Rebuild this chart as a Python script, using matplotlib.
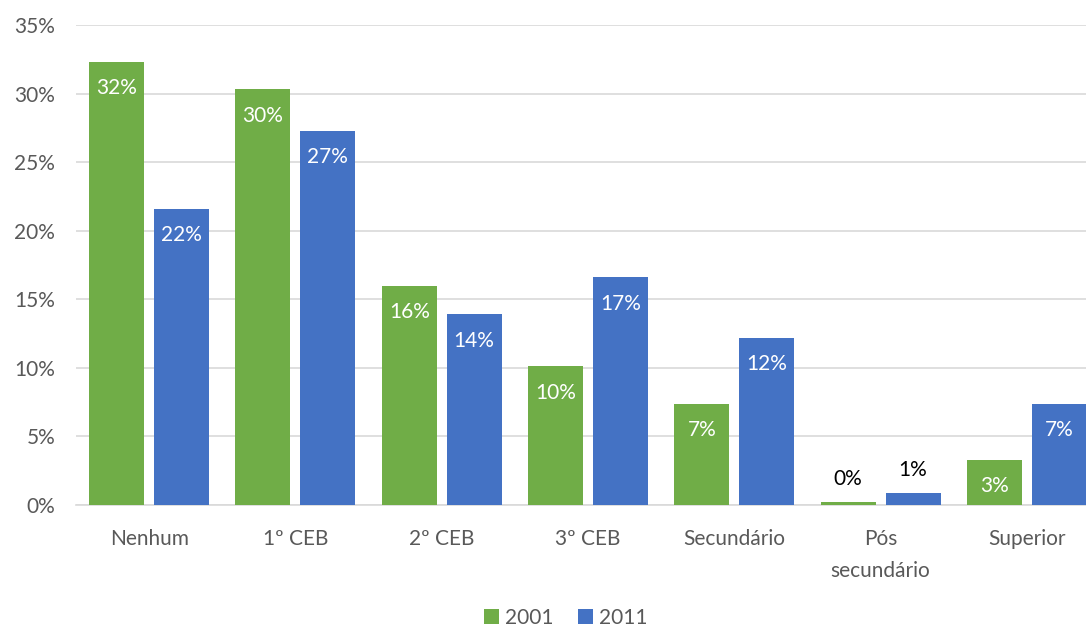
import matplotlib.pyplot as plt
import numpy as np

plt.rcParams['font.family'] = ['Lato', 'DejaVu Sans']

# Data (share of population by education level)
categories = ["Nenhum", "1º CEB", "2º CEB", "3º CEB", "Secundário", "Pós\nsecundário", "Superior"]
values_2001 = [32.3, 30.3, 16.0, 10.1, 7.4, 0.2, 3.3]
values_2011 = [21.6, 27.3, 13.9, 16.6, 12.2, 0.9, 7.4]
series_names = ["2001", "2011"]
colors = ["#70AD47", "#4472C4"]

fig = plt.figure(figsize=(10.86, 6.26), dpi=100)
ax = fig.add_axes([76 / 1086, 1 - 505 / 626, 1024 / 1086, 480 / 626])

x = np.arange(len(categories))
w = 0.376
off = 0.222
fs = 15
for vals, name, c, d in zip([values_2001, values_2011], series_names, colors, [-off, off]):
    bars = ax.bar(x + d, vals, width=w, color=c, label=name, zorder=3)
    for b, v in zip(bars, vals):
        cx = b.get_x() + b.get_width() / 2
        if v < 2:
            ax.annotate("{:.0f}%".format(v), (cx, v), xytext=(0, 16.5), textcoords="offset points",
                        ha="center", va="center", fontsize=fs, color="black")
        else:
            ax.annotate("{:.0f}%".format(v), (cx, v), xytext=(0, -19), textcoords="offset points",
                        ha="center", va="center", fontsize=fs, color="white")

ax.set_xlim(-0.5, len(categories) - 0.5)
ax.set_ylim(0, 35)
ax.set_yticks(np.arange(0, 36, 5))
ax.set_yticklabels(["{}%".format(t) for t in range(0, 36, 5)])
ax.set_xticks(x)
ax.set_xticklabels(categories, linespacing=1.75)
ax.tick_params(axis="both", length=0, labelsize=fs, colors="#595959")
ax.tick_params(axis="x", pad=17)
ax.tick_params(axis="y", pad=15)
ax.grid(axis="y", color="#D9D9D9", linewidth=1.2, zorder=0)
for s in ["top", "right", "left"]:
    ax.spines[s].set_visible(False)
ax.spines["bottom"].set_color("#D9D9D9")
ax.spines["bottom"].set_linewidth(1.2)

fig.legend(loc="center", bbox_to_anchor=(0.521, 1 - 618 / 626), ncol=2,
           frameon=False, fontsize=fs, handlelength=0.7, handleheight=0.7, handletextpad=0.3,
           columnspacing=1.2, labelcolor="#595959")

plt.savefig("out.png")
